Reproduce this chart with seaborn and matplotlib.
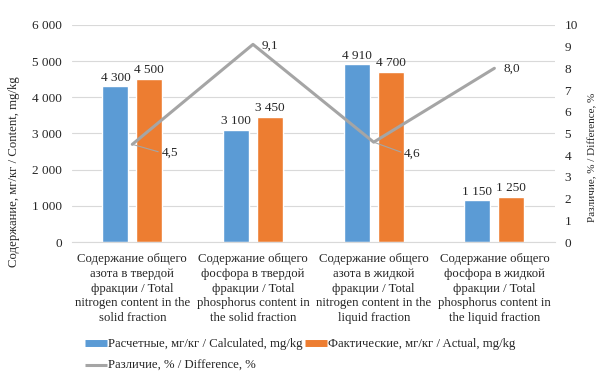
import numpy as np
import pandas as pd
import matplotlib
matplotlib.use("Agg")
import matplotlib.pyplot as plt
from matplotlib.lines import Line2D
import seaborn as sns

categories = [
    "Содержание общего\nазота в твердой\nфракции / Total\nnitrogen content in the\nsolid fraction",
    "Содержание общего\nфосфора в твердой\nфракции / Total\nphosphorus content in\nthe solid fraction",
    "Содержание общего\nазота в жидкой\nфракции / Total\nnitrogen content in the\nliquid fraction",
    "Содержание общего\nфосфора в жидкой\nфракции / Total\nphosphorus content in\nthe liquid fraction",
]
calculated = [4300, 3100, 4910, 1150]
actual = [4500, 3450, 4700, 1250]
difference = [4.5, 9.1, 4.6, 8.0]

series_names = ["Расчетные, мг/кг / Calculated, mg/kg", "Фактические, мг/кг / Actual, mg/kg"]
line_name = "Различие, % / Difference, %"
left_ticks = [0, 1000, 2000, 3000, 4000, 5000, 6000]
right_ticks = list(range(0, 11))

BLUE = "#5B9BD5"
ORANGE = "#ED7D31"
GRAY = "#A5A5A5"

sns.set_style("white")
plt.rcParams["font.family"] = ["Liberation Serif", "DejaVu Serif"]
plt.rcParams["font.size"] = 9.2

FS = 9.2

df = pd.DataFrame({
    "cat": categories * 2,
    "series": [series_names[0]] * 4 + [series_names[1]] * 4,
    "value": calculated + actual,
})

fig = plt.figure(figsize=(6.15, 3.76), dpi=100)
ax = fig.add_axes([0.117, 0.356, 0.785, 0.578])

sns.barplot(data=df, x="cat", y="value", hue="series", hue_order=series_names,
            palette=[BLUE, ORANGE], width=0.56, gap=0.23, saturation=1,
            ax=ax, legend=False)

def fmt_thousands(v):
    return f"{int(v):,}".replace(",", " ")

for cont in ax.containers:
    ax.bar_label(cont, labels=[fmt_thousands(b.get_height()) for b in cont],
                 padding=2, fontsize=9.5)

ax.set_ylim(0, 6000)
ax.set_xlim(-0.5, 3.5)
ax.set_yticks(left_ticks)
ax.set_yticklabels([fmt_thousands(t) for t in left_ticks], fontsize=9.5)
ax.grid(axis="y", color="#D9D9D9", linewidth=0.8)
ax.set_axisbelow(True)
for s in ["top", "right", "left"]:
    ax.spines[s].set_visible(False)
ax.spines["bottom"].set_color("#D9D9D9")
ax.tick_params(axis="y", length=0, pad=7)
ax.tick_params(axis="x", length=0, pad=8)
ax.set_xlabel("")
ax.set_ylabel("Содержание, мг/кг / Content, mg/kg", fontsize=FS)
ax.yaxis.set_label_coords(-0.108, 0.323)
ax.set_xticks(range(len(categories)))
ax.set_xticklabels(categories, fontsize=FS, linespacing=1.3)

ax2 = ax.twinx()
sns.lineplot(x=np.arange(len(categories)), y=difference, color=GRAY, linewidth=2.2,
             ax=ax2, legend=False)
ax2.set_ylim(0, 10)
ax2.set_yticks(right_ticks)
ax2.set_yticklabels([str(t) for t in right_ticks], fontsize=9.5)
ax2.tick_params(axis="y", length=0, pad=7)
for s in ax2.spines.values():
    s.set_visible(False)
ax2.set_ylabel("Различие, % / Difference, %", fontsize=8)
ax2.yaxis.set_label_coords(1.068, 0.392)
ax2.set_xlim(-0.5, 3.5)

def fmt_dec(v):
    return f"{v:.1f}".replace(".", ",")

offsets = [(21, -6, True), (6.5, -1, False), (22, -8, True), (6.5, 0, False)]
for i, (v, (dx, dy, leader)) in enumerate(zip(difference, offsets)):
    if leader:
        ax2.annotate(fmt_dec(v), xy=(i, v), xytext=(dx, dy), textcoords="offset points",
                     fontsize=9.5, va="center", ha="left",
                     arrowprops=dict(arrowstyle="-", color=GRAY, lw=0.8,
                                     shrinkA=0, shrinkB=0, relpos=(0, 0.5)))
    else:
        ax2.annotate(fmt_dec(v), xy=(i, v), xytext=(dx, dy), textcoords="offset points",
                     fontsize=9.5, va="center", ha="left")

handles = [
    Line2D([], [], color=BLUE, lw=5, solid_capstyle="butt"),
    Line2D([], [], color=GRAY, lw=2.2, solid_capstyle="butt"),
    Line2D([], [], color=ORANGE, lw=5, solid_capstyle="butt"),
]
labels = [series_names[0], line_name, series_names[1]]
fig.legend(handles, labels, ncol=2, loc="upper left", bbox_to_anchor=(0.138, 0.1),
           frameon=False, fontsize=FS, handlelength=1.7, handletextpad=0.1,
           columnspacing=0.2, labelspacing=0.75, borderaxespad=0, borderpad=0)

fig.savefig("out.png", dpi=100)
